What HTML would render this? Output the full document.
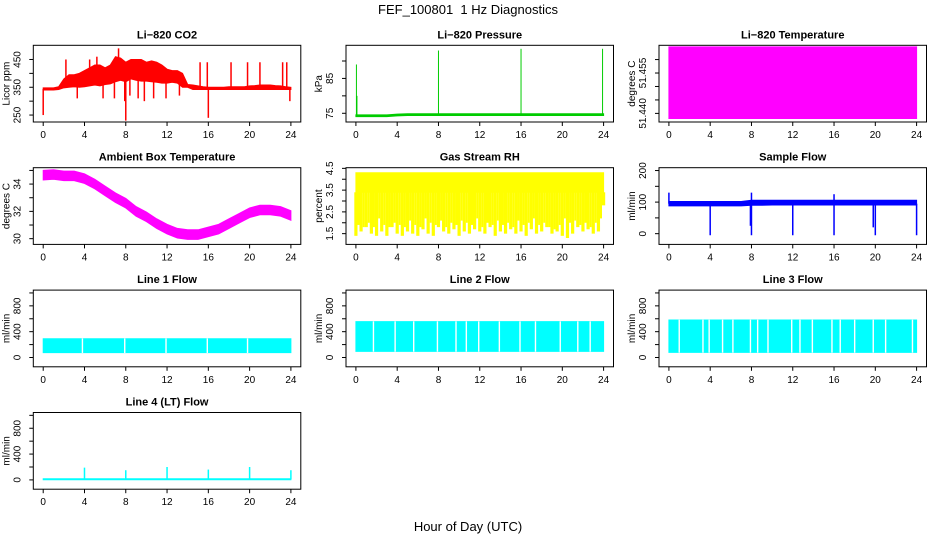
<!DOCTYPE html>
<html><head><meta charset="utf-8">
<style>
html,body{margin:0;padding:0;background:#fff;}
svg{display:block;font-family:"Liberation Sans",sans-serif;}
</style></head>
<body>
<svg id="chart" width="936" height="540" viewBox="0 0 936 540">
<text x="468" y="14" text-anchor="middle" font-size="13">FEF_100801&#160; 1 Hz Diagnostics</text>
<text x="468" y="531" text-anchor="middle" font-size="13">Hour of Day (UTC)</text>
</svg>
<script>
// ---- data (hours 0..24) ----
const xTicks = [0,4,8,12,16,20,24];
const halfHours = [0,0.5,1,1.5,2,2.5,3,3.5,4,4.5,5,5.5,6,6.5,7,7.5,8,8.5,9,9.5,10,10.5,11,11.5,12,12.5,13,13.5,14,14.5,15,15.5,16,16.5,17,17.5,18,18.5,19,19.5,20,20.5,21,21.5,22,22.5,23,23.5,24];
const hours = [0,1,2,3,4,5,6,7,8,9,10,11,12,13,14,15,16,17,18,19,20,21,22,23,24];

const co2Hi = [348,348,348,352,380,395,395,400,410,420,430,430,420,430,460,455,440,450,450,450,440,445,440,430,415,410,410,400,360,358,355,352,350,350,350,350,352,352,352,352,355,356,358,358,358,356,355,352,350];
const co2Lo = [340,340,340,342,348,350,352,350,352,355,358,355,360,362,370,375,370,380,375,372,372,370,368,365,365,368,365,350,350,342,342,342,342,342,342,342,342,342,342,342,342,342,342,342,342,342,342,342,342];
const co2SpikeT = [0,2.2,3.3,4.5,5.2,5.8,6.9,7.3,7.9,8,8.4,9.2,9.8,10.7,11.9,13.2,15.2,15.9,16,18.2,19.8,21,23.2,23.6,23.9];
const co2SpikeV = [250,450,310,450,460,310,310,490,300,230,320,310,300,310,310,320,440,440,240,440,440,440,440,440,300];

const presBase = [74.3,74.3,74.3,74.3,74.5,74.6,74.6,74.6,74.6,74.6,74.6,74.6,74.6,74.6,74.6,74.6,74.6,74.6,74.6,74.6,74.6,74.6,74.6,74.6,74.6];
const presSpikeT = [0.05,0.1,8,16,23.9];
const presSpikeV = [89,80,93,93.5,93.5];

const tempLo = 51.4381, tempHi = 51.4647;

const ambMid = [34.65,34.7,34.6,34.6,34.4,34.0,33.5,33.0,32.6,32.0,31.6,31.1,30.7,30.4,30.3,30.3,30.5,30.7,31.1,31.5,31.9,32.1,32.1,32.0,31.7];
const ambSpread = 0.35;

const rhHi = 4.3;
const rhCore = 3.4;
const rhLo = [1.4,1.6,1.8,1.5,1.4,1.6,1.4,1.8,1.5,1.4,1.6,1.5,1.4,1.7,1.5,1.4,1.8,1.6,1.5,1.7,1.4,1.6,1.5,1.7,1.6,1.5,1.8,1.4,1.6,1.5,1.7,1.5,1.6,1.4,1.7,1.5,1.6,1.8,1.5,1.6,1.4,1.3,1.5,1.8,1.6,1.7,1.5,1.6,2.8];

const sfLo = [88,88,88,88,88,88,88,88,90,90,91,91,91,91,91,91,91,91,91,91,91,91,91,91,91];
const sfHi = [102,102,102,102,102,102,102,102,106,106,106,106,106,106,106,106,106,106,106,106,106,106,106,106,106];
const sfSpikeT = [0,4,8,8,7.9,12,16,16,19.8,20,24];
const sfSpikeV = [130,-5,130,-5,25,-5,125,-5,20,-5,-5];

const l1Lo = 75, l1Hi = 290;
const l1Gaps = [3.8,7.9,11.9,15.9,19.8];
const l2Lo = 95, l2Hi = 555;
const l2Gaps = [1.7,3.8,5.6,7.9,9.7,10.7,11.9,13.9,15.9,17.4,19.8,21.5,22.7];
const l3Lo = 80, l3Hi = 580;
const l3Gaps = [1,3.3,3.9,5.2,6.2,7.9,8.6,9.6,11.9,12.7,13.9,15.8,16.6,18,19.8,21,23.6];
const l4Base = 10;
const l4SpikeT = [4,8,12,16,20,24];
const l4SpikeV = [190,150,200,160,200,150];

// ---- layout ----
const NS = "http://www.w3.org/2000/svg";
const svg = document.getElementById('chart');
const colLeft = [33.3, 346, 659];
const boxW = 267.5;
const rowTop = [45.3, 167.7, 290.1, 412.5];
const boxH = 76.7;
const X0 = -0.96, X1 = 24.96;

function el(tag, attrs, parent){
  const e = document.createElementNS(NS, tag);
  for (const k in attrs) e.setAttribute(k, attrs[k]);
  (parent||svg).appendChild(e);
  return e;
}

function makePanel(name, col, row, ymin, ymax, yTicks, yLabels, ytitle, title){
  const g = el('g', {});
  
  
  const L = colLeft[col], T = rowTop[row];
  const sx = v => L + (v - X0) / (X1 - X0) * boxW;
  const sy = v => T + boxH - (v - ymin) / (ymax - ymin) * boxH;
  const plot = el('g', {}, g);
  
  
  const box = el('rect', {x:L, y:T, width:boxW, height:boxH, fill:'none', stroke:'#000', 'stroke-width':1}, g);
  
  
  const tt = el('text', {x:L+boxW/2, y:T-7, 'text-anchor':'middle', 'font-size':11, 'font-weight':'bold'}, g);
  tt.textContent = title;
  
  
  const xa = el('g', {}, g);
  
  
  xTicks.forEach(t => {
    el('line', {x1:sx(t), x2:sx(t), y1:T+boxH, y2:T+boxH+4, stroke:'#000'}, xa);
    const tx = el('text', {x:sx(t), y:T+boxH+16, 'text-anchor':'middle', 'font-size':10}, xa);
    tx.textContent = t;
    
    
  });
  const ya = el('g', {}, g);
  
  
  yTicks.forEach((t, i) => {
    el('line', {x1:L-4, x2:L, y1:sy(t), y2:sy(t), stroke:'#000'}, ya);
    if (yLabels[i] !== '') {
      const ty = el('text', {x:L-13, y:sy(t), 'text-anchor':'middle', 'font-size':10, transform:`rotate(-90 ${L-13} ${sy(t)})`}, ya);
      ty.textContent = yLabels[i];
      
      
    }
  });
  const yt = el('text', {x:L-24, y:T+boxH/2, 'text-anchor':'middle', 'font-size':10, transform:`rotate(-90 ${L-24} ${T+boxH/2})`}, ya);
  yt.textContent = ytitle;
  
  
  return {plot, sx, sy};
}

function band(p, ts, lo, hi, color, nm){
  let d = '';
  ts.forEach((t,i)=>{ d += (i?'L':'M') + p.sx(t) + ' ' + p.sy(hi[i]) + ' '; });
  for (let i = ts.length-1; i >= 0; i--) d += 'L' + p.sx(ts[i]) + ' ' + p.sy(lo[i]) + ' ';
  const e = el('path', {d: d + 'Z', fill: color, stroke: color, 'stroke-width': 1}, p.plot);
  
  
}
function vseg(p, t, a, b, color, w, nm){
  const e = el('line', {x1:p.sx(t), x2:p.sx(t), y1:p.sy(a), y2:p.sy(b), stroke:color, 'stroke-width':w}, p.plot);
  
  
}
function interp(ts, vs, t){
  for (let i=0;i<ts.length-1;i++) if (t<=ts[i+1]) return vs[i] + (vs[i+1]-vs[i])*(t-ts[i])/(ts[i+1]-ts[i]);
  return vs[vs.length-1];
}
const flowTicks = [0,200,400,600,800,1000];
const flowLabels = ['0','','400','','800',''];

let p = makePanel('co2', 0, 0, 225, 501, [250,300,350,400,450], ['250','','350','','450'], 'Licor ppm', 'Li\u2212820 CO2');
band(p, halfHours, co2Lo, co2Hi, '#ff0000', 'co2-band');
co2SpikeT.forEach((t,i)=>{ const b=(interp(halfHours,co2Lo,t)+interp(halfHours,co2Hi,t))/2; vseg(p,t,b,co2SpikeV[i],'#ff0000',1.5,'co2-spike'); });

p = makePanel('pressure', 1, 0, 72.5, 94.5, [75,80,85,90], ['75','','85',''], 'kPa', 'Li\u2212820 Pressure');
band(p, hours, presBase.map(v=>v-0.25), presBase.map(v=>v+0.25), '#00cc00', 'pressure-line');
presSpikeT.forEach((t,i)=>{ vseg(p,t,interp(hours,presBase,t),presSpikeV[i],'#00cc00',1,'pressure-spike'); });

p = makePanel('li820-temp', 2, 0, 51.4368, 51.4653, [51.440,51.445,51.450,51.455,51.460], ['51.440','','','51.455',''], 'degrees C', 'Li\u2212820 Temperature');
band(p, [0,24], [tempLo,tempLo], [tempHi,tempHi], '#ff00ff', 'li820-temp-band');

p = makePanel('ambient', 0, 1, 29.58, 35.2, [30,31,32,33,34,35], ['30','','32','','34',''], 'degrees C', 'Ambient Box Temperature');
band(p, hours, ambMid.map(v=>v-ambSpread), ambMid.map(v=>v+ambSpread), '#ff00ff', 'ambient-band');

p = makePanel('rh', 1, 1, 1.006, 4.53, [1.5,2,2.5,3,3.5,4,4.5], ['1.5','','2.5','','3.5','','4.5'], 'percent', 'Gas Stream RH');
band(p, [0,24], [rhCore,rhCore], [rhHi,rhHi], '#ffff00', 'rh-core-band');
rhLo.forEach((v,i)=>{ vseg(p,halfHours[i],v,rhCore,'#ffff00',3.2,'rh-bar'); if(i<rhLo.length-1) vseg(p,halfHours[i]+0.25,rhLo[(i+3)%48]+0.4,rhCore,'#ffff00',2,'rh-bar'); });

p = makePanel('sample-flow', 2, 1, -34, 209, [0,50,100,150,200], ['0','','100','','200'], 'ml/min', 'Sample Flow');
band(p, hours, sfLo, sfHi, '#0000ff', 'sample-flow-band');
sfSpikeT.forEach((t,i)=>{ vseg(p,t,95,sfSpikeV[i],'#0000ff',1.5,'sample-flow-spike'); });

function flowPanel(nm, col, row, title, lo, hi, gaps){
  const q = makePanel(nm, col, row, -144, 1044, flowTicks, flowLabels, 'ml/min', title);
  band(q, [0,24], [lo,lo], [hi,hi], '#00ffff', nm+'-band');
  gaps.forEach(t=>vseg(q,t,lo-5,hi+5,'#ffffff',1.4,nm+'-gap'));
  return q;
}
flowPanel('line1-flow', 0, 2, 'Line 1 Flow', l1Lo, l1Hi, l1Gaps);
flowPanel('line2-flow', 1, 2, 'Line 2 Flow', l2Lo, l2Hi, l2Gaps);
flowPanel('line3-flow', 2, 2, 'Line 3 Flow', l3Lo, l3Hi, l3Gaps);

p = makePanel('line4-flow', 0, 3, -144, 1044, flowTicks, flowLabels, 'ml/min', 'Line 4 (LT) Flow');
band(p, [0,24], [l4Base-8,l4Base-8], [l4Base+8,l4Base+8], '#00ffff', 'line4-flow-line');
l4SpikeT.forEach((t,i)=>{ vseg(p,t,l4Base,l4SpikeV[i],'#00ffff',1.5,'line4-flow-spike'); });
</script>
</body></html>
